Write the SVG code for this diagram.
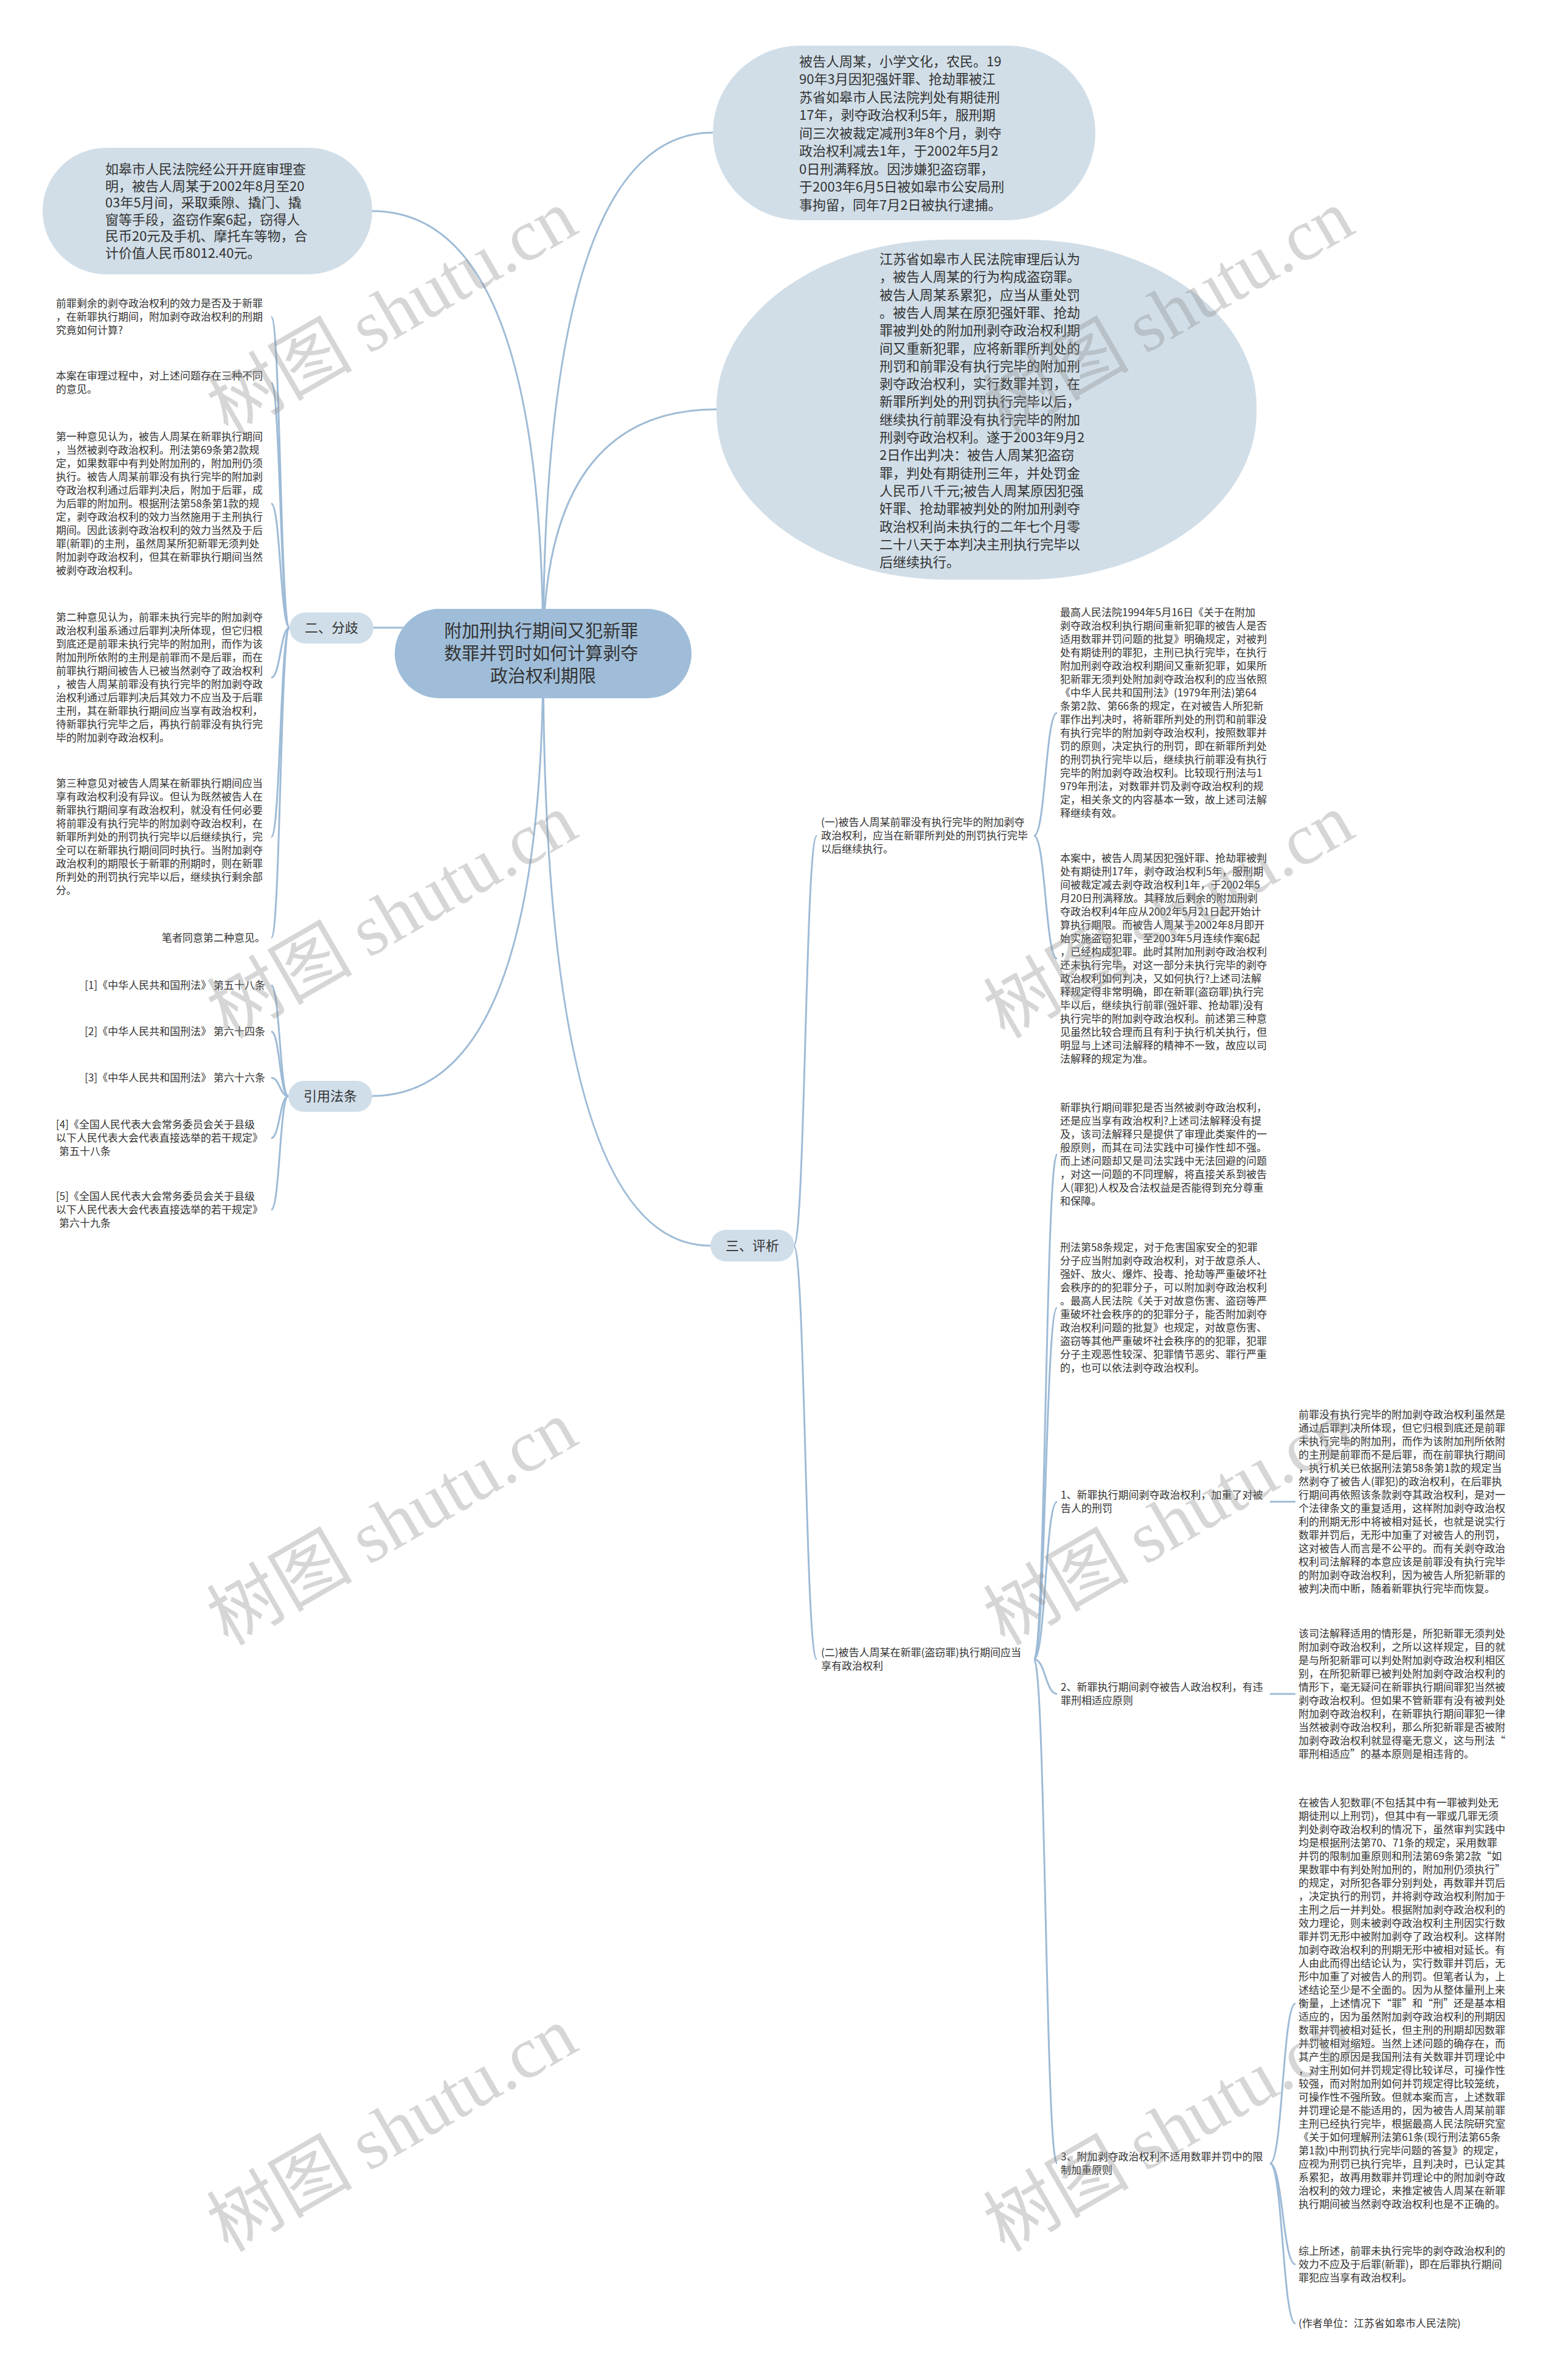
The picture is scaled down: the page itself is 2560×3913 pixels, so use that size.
<svg xmlns="http://www.w3.org/2000/svg" width="2560" height="3913" viewBox="0 0 2560 3913">
<style>
text { font-family: "Noto Sans CJK SC", "Noto Sans", sans-serif; fill: #333333; }
.t17 { font-size: 17px; }
.t22 { font-size: 22px; }
.t29 { font-size: 29px; }
.conn { fill: none; stroke: #9ebbd6; stroke-width: 3; }
.bub { fill: #d1dee8; }
.pill { fill: #d0dee9; }
.root { fill: #9fbdd8; }
.wm { font-size: 120px; fill: #8c8c8c; fill-opacity: 0.36; }
.wmlat { font-family: "Liberation Serif", serif; }
</style>
<rect x="0" y="0" width="2560" height="3913" fill="#ffffff"/>

<g id="connectors">
  <path class="conn" d="M893,1075 Q893,347 612,347"/>
  <path class="conn" d="M893,1075 Q893,218 1172,218"/>
  <path class="conn" d="M893,1075 Q893,673 1178,673"/>
  <path class="conn" d="M893,1032 L612,1032"/>
  <path class="conn" d="M893,1075 Q893,1802 611,1802"/>
  <path class="conn" d="M893,1075 Q893,2048 1168,2048"/>
  <path class="conn" d="M476,1032 C461,1032 461,521 446,521"/>
  <path class="conn" d="M476,1032 C461,1032 461,629 446,629"/>
  <path class="conn" d="M476,1032 C461,1032 461,828 446,828"/>
  <path class="conn" d="M476,1032 C461,1032 461,1114 446,1114"/>
  <path class="conn" d="M476,1032 C461,1032 461,1376 446,1376"/>
  <path class="conn" d="M476,1032 C461,1032 461,1542 446,1542"/>
  <path class="conn" d="M474,1802 C460,1802 460,1620 446,1620"/>
  <path class="conn" d="M474,1802 C460,1802 460,1696 446,1696"/>
  <path class="conn" d="M474,1802 C460,1802 460,1772 446,1772"/>
  <path class="conn" d="M474,1802 C460,1802 460,1871 446,1871"/>
  <path class="conn" d="M474,1802 C460,1802 460,1989 446,1989"/>
  <path class="conn" d="M1305,2048 C1324,2048 1324,1374 1343,1374"/>
  <path class="conn" d="M1305,2048 C1324,2048 1324,2728 1343,2728"/>
  <path class="conn" d="M1700,1374 C1719,1374 1719,1172 1738,1172"/>
  <path class="conn" d="M1700,1374 C1719,1374 1719,1576 1738,1576"/>
  <path class="conn" d="M1700,2728 C1719,2728 1719,1898 1738,1898"/>
  <path class="conn" d="M1700,2728 C1719,2728 1719,2150 1738,2150"/>
  <path class="conn" d="M1700,2728 C1719,2728 1719,2469 1738,2469"/>
  <path class="conn" d="M1700,2728 C1719,2728 1719,2785 1738,2785"/>
  <path class="conn" d="M1700,2728 C1719,2728 1719,3557 1738,3557"/>
  <path class="conn" d="M2088,2469 L2130,2469"/>
  <path class="conn" d="M2088,2785 L2130,2785"/>
  <path class="conn" d="M2088,3557 C2109,3557 2109,3294 2130,3294"/>
  <path class="conn" d="M2088,3557 C2109,3557 2109,3723 2130,3723"/>
  <path class="conn" d="M2088,3557 C2109,3557 2109,3820 2130,3820"/>
</g>

<g id="root">
  <rect class="root" x="649" y="1001" width="488" height="147" rx="73.5"/>
  <text class="t29" text-anchor="middle">
    <tspan x="893" y="1048">附加刑执行期间又犯新罪</tspan>
    <tspan x="893" y="1085">数罪并罚时如何计算剥夺</tspan>
    <tspan x="893" y="1122">政治权利期限</tspan>
  </text>
</g>

<g id="fact-theft">
  <rect class="bub" x="70" y="243" width="542" height="208" rx="104"/>
  <text class="t22">
    <tspan x="173" y="286">如皋市人民法院经公开开庭审理查</tspan>
    <tspan x="173" y="314">明，被告人周某于2002年8月至20</tspan>
    <tspan x="173" y="341">03年5月间，采取乘隙、撬门、撬</tspan>
    <tspan x="173" y="369">窗等手段，盗窃作案6起，窃得人</tspan>
    <tspan x="173" y="396">民币20元及手机、摩托车等物，合</tspan>
    <tspan x="173" y="424">计价值人民币8012.40元。</tspan>
  </text>
</g>

<g id="fact-defendant">
  <rect class="bub" x="1172" y="75" width="629" height="287" rx="143.5"/>
  <text class="t22">
    <tspan x="1314" y="108.5">被告人周某，小学文化，农民。19</tspan>
    <tspan x="1314" y="138">90年3月因犯强奸罪、抢劫罪被江</tspan>
    <tspan x="1314" y="167.5">苏省如皋市人民法院判处有期徒刑</tspan>
    <tspan x="1314" y="197">17年，剥夺政治权利5年，服刑期</tspan>
    <tspan x="1314" y="226.5">间三次被裁定减刑3年8个月，剥夺</tspan>
    <tspan x="1314" y="256">政治权利减去1年，于2002年5月2</tspan>
    <tspan x="1314" y="285.5">0日刑满释放。因涉嫌犯盗窃罪，</tspan>
    <tspan x="1314" y="315">于2003年6月5日被如皋市公安局刑</tspan>
    <tspan x="1314" y="344.5">事拘留，同年7月2日被执行逮捕。</tspan>
  </text>
</g>

<g id="fact-judgment">
  <rect class="bub" x="1178" y="394" width="888" height="559" rx="380" ry="275"/>
  <text class="t22">
    <tspan x="1446" y="434">江苏省如皋市人民法院审理后认为</tspan>
    <tspan x="1446" y="463">，被告人周某的行为构成盗窃罪。</tspan>
    <tspan x="1446" y="493">被告人周某系累犯，应当从重处罚</tspan>
    <tspan x="1446" y="522">。被告人周某在原犯强奸罪、抢劫</tspan>
    <tspan x="1446" y="551">罪被判处的附加刑剥夺政治权利期</tspan>
    <tspan x="1446" y="581">间又重新犯罪，应将新罪所判处的</tspan>
    <tspan x="1446" y="610">刑罚和前罪没有执行完毕的附加刑</tspan>
    <tspan x="1446" y="639">剥夺政治权利，实行数罪并罚，在</tspan>
    <tspan x="1446" y="668">新罪所判处的刑罚执行完毕以后，</tspan>
    <tspan x="1446" y="698">继续执行前罪没有执行完毕的附加</tspan>
    <tspan x="1446" y="727">刑剥夺政治权利。遂于2003年9月2</tspan>
    <tspan x="1446" y="756">2日作出判决：被告人周某犯盗窃</tspan>
    <tspan x="1446" y="786">罪，判处有期徒刑三年，并处罚金</tspan>
    <tspan x="1446" y="815">人民币八千元;被告人周某原因犯强</tspan>
    <tspan x="1446" y="844">奸罪、抢劫罪被判处的附加刑剥夺</tspan>
    <tspan x="1446" y="874">政治权利尚未执行的二年七个月零</tspan>
    <tspan x="1446" y="903">二十八天于本判决主刑执行完毕以</tspan>
    <tspan x="1446" y="932">后继续执行。</tspan>
  </text>
</g>

<g id="branch-dispute">
  <rect class="pill" x="476" y="1007" width="138" height="51" rx="25.5"/>
  <text class="t22" x="545" y="1040" text-anchor="middle">二、分歧</text>
</g>

<g id="dispute-question">
  <text class="t17">
    <tspan x="92" y="505">前罪剩余的剥夺政治权利的效力是否及于新罪</tspan>
    <tspan x="92" y="527">，在新罪执行期间，附加剥夺政治权利的刑期</tspan>
    <tspan x="92" y="549">究竟如何计算?</tspan>
  </text>
</g>
<g id="dispute-intro">
  <text class="t17">
    <tspan x="92" y="624">本案在审理过程中，对上述问题存在三种不同</tspan>
    <tspan x="92" y="646">的意见。</tspan>
  </text>
</g>
<g id="opinion-1">
  <text class="t17">
    <tspan x="92" y="724">第一种意见认为，被告人周某在新罪执行期间</tspan>
    <tspan x="92" y="746">，当然被剥夺政治权利。刑法第69条第2款规</tspan>
    <tspan x="92" y="768">定，如果数罪中有判处附加刑的，附加刑仍须</tspan>
    <tspan x="92" y="790">执行。被告人周某前罪没有执行完毕的附加剥</tspan>
    <tspan x="92" y="812">夺政治权利通过后罪判决后，附加于后罪，成</tspan>
    <tspan x="92" y="834">为后罪的附加刑。根据刑法第58条第1款的规</tspan>
    <tspan x="92" y="856">定，剥夺政治权利的效力当然施用于主刑执行</tspan>
    <tspan x="92" y="878">期间。因此该剥夺政治权利的效力当然及于后</tspan>
    <tspan x="92" y="900">罪(新罪)的主刑，虽然周某所犯新罪无须判处</tspan>
    <tspan x="92" y="922">附加剥夺政治权利，但其在新罪执行期间当然</tspan>
    <tspan x="92" y="944">被剥夺政治权利。</tspan>
  </text>
</g>
<g id="opinion-2">
  <text class="t17">
    <tspan x="92" y="1021">第二种意见认为，前罪未执行完毕的附加剥夺</tspan>
    <tspan x="92" y="1043">政治权利虽系通过后罪判决所体现，但它归根</tspan>
    <tspan x="92" y="1065">到底还是前罪未执行完毕的附加刑，而作为该</tspan>
    <tspan x="92" y="1087">附加刑所依附的主刑是前罪而不是后罪，而在</tspan>
    <tspan x="92" y="1109">前罪执行期间被告人已被当然剥夺了政治权利</tspan>
    <tspan x="92" y="1131">，被告人周某前罪没有执行完毕的附加剥夺政</tspan>
    <tspan x="92" y="1153">治权利通过后罪判决后其效力不应当及于后罪</tspan>
    <tspan x="92" y="1175">主刑，其在新罪执行期间应当享有政治权利，</tspan>
    <tspan x="92" y="1197">待新罪执行完毕之后，再执行前罪没有执行完</tspan>
    <tspan x="92" y="1219">毕的附加剥夺政治权利。</tspan>
  </text>
</g>
<g id="opinion-3">
  <text class="t17">
    <tspan x="92" y="1294">第三种意见对被告人周某在新罪执行期间应当</tspan>
    <tspan x="92" y="1316">享有政治权利没有异议。但认为既然被告人在</tspan>
    <tspan x="92" y="1338">新罪执行期间享有政治权利，就没有任何必要</tspan>
    <tspan x="92" y="1360">将前罪没有执行完毕的附加剥夺政治权利，在</tspan>
    <tspan x="92" y="1382">新罪所判处的刑罚执行完毕以后继续执行，完</tspan>
    <tspan x="92" y="1404">全可以在新罪执行期间同时执行。当附加剥夺</tspan>
    <tspan x="92" y="1426">政治权利的期限长于新罪的刑期时，则在新罪</tspan>
    <tspan x="92" y="1448">所判处的刑罚执行完毕以后，继续执行剩余部</tspan>
    <tspan x="92" y="1470">分。</tspan>
  </text>
</g>
<g id="author-view">
  <text class="t17" x="436" y="1548" text-anchor="end">笔者同意第二种意见。</text>
</g>

<g id="branch-laws">
  <rect class="pill" x="474" y="1777" width="138" height="51" rx="25.5"/>
  <text class="t22" x="543" y="1810" text-anchor="middle">引用法条</text>
</g>
<g id="law-1"><text class="t17" x="436" y="1626" text-anchor="end">[1]《中华人民共和国刑法》 第五十八条</text></g>
<g id="law-2"><text class="t17" x="436" y="1702" text-anchor="end">[2]《中华人民共和国刑法》 第六十四条</text></g>
<g id="law-3"><text class="t17" x="436" y="1778" text-anchor="end">[3]《中华人民共和国刑法》 第六十六条</text></g>
<g id="law-4">
  <text class="t17">
    <tspan x="92" y="1855">[4]《全国人民代表大会常务委员会关于县级</tspan>
    <tspan x="92" y="1877">以下人民代表大会代表直接选举的若干规定》</tspan>
    <tspan x="97" y="1899">第五十八条</tspan>
  </text>
</g>
<g id="law-5">
  <text class="t17">
    <tspan x="92" y="1973">[5]《全国人民代表大会常务委员会关于县级</tspan>
    <tspan x="92" y="1995">以下人民代表大会代表直接选举的若干规定》</tspan>
    <tspan x="97" y="2017">第六十九条</tspan>
  </text>
</g>

<g id="branch-analysis">
  <rect class="pill" x="1168" y="2022" width="138" height="52" rx="26"/>
  <text class="t22" x="1237" y="2056" text-anchor="middle">三、评析</text>
</g>

<g id="analysis-1">
  <text class="t17">
    <tspan x="1350" y="1358">(一)被告人周某前罪没有执行完毕的附加剥夺</tspan>
    <tspan x="1350" y="1380">政治权利，应当在新罪所判处的刑罚执行完毕</tspan>
    <tspan x="1350" y="1402">以后继续执行。</tspan>
  </text>
</g>
<g id="analysis-1a">
  <text class="t17">
    <tspan x="1743" y="1013">最高人民法院1994年5月16日《关于在附加</tspan>
    <tspan x="1743" y="1035">剥夺政治权利执行期间重新犯罪的被告人是否</tspan>
    <tspan x="1743" y="1057">适用数罪并罚问题的批复》明确规定，对被判</tspan>
    <tspan x="1743" y="1079">处有期徒刑的罪犯，主刑已执行完毕，在执行</tspan>
    <tspan x="1743" y="1101">附加刑剥夺政治权利期间又重新犯罪，如果所</tspan>
    <tspan x="1743" y="1123">犯新罪无须判处附加剥夺政治权利的应当依照</tspan>
    <tspan x="1743" y="1145">《中华人民共和国刑法》(1979年刑法)第64</tspan>
    <tspan x="1743" y="1167">条第2款、第66条的规定，在对被告人所犯新</tspan>
    <tspan x="1743" y="1189">罪作出判决时，将新罪所判处的刑罚和前罪没</tspan>
    <tspan x="1743" y="1211">有执行完毕的附加剥夺政治权利，按照数罪并</tspan>
    <tspan x="1743" y="1233">罚的原则，决定执行的刑罚，即在新罪所判处</tspan>
    <tspan x="1743" y="1255">的刑罚执行完毕以后，继续执行前罪没有执行</tspan>
    <tspan x="1743" y="1277">完毕的附加剥夺政治权利。比较现行刑法与1</tspan>
    <tspan x="1743" y="1299">979年刑法，对数罪并罚及剥夺政治权利的规</tspan>
    <tspan x="1743" y="1321">定，相关条文的内容基本一致，故上述司法解</tspan>
    <tspan x="1743" y="1343">释继续有效。</tspan>
  </text>
</g>
<g id="analysis-1b">
  <text class="t17">
    <tspan x="1743" y="1417">本案中，被告人周某因犯强奸罪、抢劫罪被判</tspan>
    <tspan x="1743" y="1439">处有期徒刑17年，剥夺政治权利5年，服刑期</tspan>
    <tspan x="1743" y="1461">间被裁定减去剥夺政治权利1年，于2002年5</tspan>
    <tspan x="1743" y="1483">月20日刑满释放。其释放后剩余的附加刑剥</tspan>
    <tspan x="1743" y="1505">夺政治权利4年应从2002年5月21日起开始计</tspan>
    <tspan x="1743" y="1527">算执行期限。而被告人周某于2002年8月即开</tspan>
    <tspan x="1743" y="1549">始实施盗窃犯罪，至2003年5月连续作案6起</tspan>
    <tspan x="1743" y="1571">，已经构成犯罪。此时其附加刑剥夺政治权利</tspan>
    <tspan x="1743" y="1593">还未执行完毕，对这一部分未执行完毕的剥夺</tspan>
    <tspan x="1743" y="1615">政治权利如何判决，又如何执行?上述司法解</tspan>
    <tspan x="1743" y="1637">释规定得非常明确，即在新罪(盗窃罪)执行完</tspan>
    <tspan x="1743" y="1659">毕以后，继续执行前罪(强奸罪、抢劫罪)没有</tspan>
    <tspan x="1743" y="1681">执行完毕的附加剥夺政治权利。前述第三种意</tspan>
    <tspan x="1743" y="1703">见虽然比较合理而且有利于执行机关执行，但</tspan>
    <tspan x="1743" y="1725">明显与上述司法解释的精神不一致，故应以司</tspan>
    <tspan x="1743" y="1747">法解释的规定为准。</tspan>
  </text>
</g>

<g id="analysis-2">
  <text class="t17">
    <tspan x="1350" y="2723">(二)被告人周某在新罪(盗窃罪)执行期间应当</tspan>
    <tspan x="1350" y="2745">享有政治权利</tspan>
  </text>
</g>
<g id="analysis-2a">
  <text class="t17">
    <tspan x="1743" y="1827">新罪执行期间罪犯是否当然被剥夺政治权利，</tspan>
    <tspan x="1743" y="1849">还是应当享有政治权利?上述司法解释没有提</tspan>
    <tspan x="1743" y="1871">及，该司法解释只是提供了审理此类案件的一</tspan>
    <tspan x="1743" y="1893">般原则，而其在司法实践中可操作性却不强。</tspan>
    <tspan x="1743" y="1915">而上述问题却又是司法实践中无法回避的问题</tspan>
    <tspan x="1743" y="1937">，对这一问题的不同理解，将直接关系到被告</tspan>
    <tspan x="1743" y="1959">人(罪犯)人权及合法权益是否能得到充分尊重</tspan>
    <tspan x="1743" y="1981">和保障。</tspan>
  </text>
</g>
<g id="analysis-2b">
  <text class="t17">
    <tspan x="1743" y="2057">刑法第58条规定，对于危害国家安全的犯罪</tspan>
    <tspan x="1743" y="2079">分子应当附加剥夺政治权利，对于故意杀人、</tspan>
    <tspan x="1743" y="2101">强奸、放火、爆炸、投毒、抢劫等严重破坏社</tspan>
    <tspan x="1743" y="2123">会秩序的的犯罪分子，可以附加剥夺政治权利</tspan>
    <tspan x="1743" y="2145">。最高人民法院《关于对故意伤害、盗窃等严</tspan>
    <tspan x="1743" y="2167">重破坏社会秩序的的犯罪分子，能否附加剥夺</tspan>
    <tspan x="1743" y="2189">政治权利问题的批复》也规定，对故意伤害、</tspan>
    <tspan x="1743" y="2211">盗窃等其他严重破坏社会秩序的的犯罪，犯罪</tspan>
    <tspan x="1743" y="2233">分子主观恶性较深、犯罪情节恶劣、罪行严重</tspan>
    <tspan x="1743" y="2255">的，也可以依法剥夺政治权利。</tspan>
  </text>
</g>

<g id="point-1">
  <text class="t17">
    <tspan x="1744" y="2464">1、新罪执行期间剥夺政治权利，加重了对被</tspan>
    <tspan x="1744" y="2486">告人的刑罚</tspan>
  </text>
</g>
<g id="point-1-text">
  <text class="t17">
    <tspan x="2135" y="2332">前罪没有执行完毕的附加剥夺政治权利虽然是</tspan>
    <tspan x="2135" y="2354">通过后罪判决所体现，但它归根到底还是前罪</tspan>
    <tspan x="2135" y="2376">未执行完毕的附加刑，而作为该附加刑所依附</tspan>
    <tspan x="2135" y="2398">的主刑是前罪而不是后罪，而在前罪执行期间</tspan>
    <tspan x="2135" y="2420">，执行机关已依据刑法第58条第1款的规定当</tspan>
    <tspan x="2135" y="2442">然剥夺了被告人(罪犯)的政治权利，在后罪执</tspan>
    <tspan x="2135" y="2464">行期间再依照该条款剥夺其政治权利，是对一</tspan>
    <tspan x="2135" y="2486">个法律条文的重复适用，这样附加剥夺政治权</tspan>
    <tspan x="2135" y="2508">利的刑期无形中将被相对延长，也就是说实行</tspan>
    <tspan x="2135" y="2530">数罪并罚后，无形中加重了对被告人的刑罚，</tspan>
    <tspan x="2135" y="2552">这对被告人而言是不公平的。而有关剥夺政治</tspan>
    <tspan x="2135" y="2574">权利司法解释的本意应该是前罪没有执行完毕</tspan>
    <tspan x="2135" y="2596">的附加剥夺政治权利，因为被告人所犯新罪的</tspan>
    <tspan x="2135" y="2618">被判决而中断，随着新罪执行完毕而恢复。</tspan>
  </text>
</g>

<g id="point-2">
  <text class="t17">
    <tspan x="1744" y="2780">2、新罪执行期间剥夺被告人政治权利，有违</tspan>
    <tspan x="1744" y="2802">罪刑相适应原则</tspan>
  </text>
</g>
<g id="point-2-text">
  <text class="t17">
    <tspan x="2135" y="2692">该司法解释适用的情形是，所犯新罪无须判处</tspan>
    <tspan x="2135" y="2714">附加剥夺政治权利，之所以这样规定，目的就</tspan>
    <tspan x="2135" y="2736">是与所犯新罪可以判处附加剥夺政治权利相区</tspan>
    <tspan x="2135" y="2758">别，在所犯新罪已被判处附加剥夺政治权利的</tspan>
    <tspan x="2135" y="2780">情形下，毫无疑问在新罪执行期间罪犯当然被</tspan>
    <tspan x="2135" y="2802">剥夺政治权利。但如果不管新罪有没有被判处</tspan>
    <tspan x="2135" y="2824">附加剥夺政治权利，在新罪执行期间罪犯一律</tspan>
    <tspan x="2135" y="2846">当然被剥夺政治权利，那么所犯新罪是否被附</tspan>
    <tspan x="2135" y="2868">加剥夺政治权利就显得毫无意义，这与刑法“</tspan>
    <tspan x="2135" y="2890">罪刑相适应”的基本原则是相违背的。</tspan>
  </text>
</g>

<g id="point-3">
  <text class="t17">
    <tspan x="1744" y="3552">3、附加剥夺政治权利不适用数罪并罚中的限</tspan>
    <tspan x="1744" y="3574">制加重原则</tspan>
  </text>
</g>
<g id="point-3-text">
  <text class="t17">
    <tspan x="2135" y="2970">在被告人犯数罪(不包括其中有一罪被判处无</tspan>
    <tspan x="2135" y="2992">期徒刑以上刑罚)，但其中有一罪或几罪无须</tspan>
    <tspan x="2135" y="3014">判处剥夺政治权利的情况下，虽然审判实践中</tspan>
    <tspan x="2135" y="3036">均是根据刑法第70、71条的规定，采用数罪</tspan>
    <tspan x="2135" y="3058">并罚的限制加重原则和刑法第69条第2款“如</tspan>
    <tspan x="2135" y="3080">果数罪中有判处附加刑的，附加刑仍须执行”</tspan>
    <tspan x="2135" y="3102">的规定，对所犯各罪分别判处，再数罪并罚后</tspan>
    <tspan x="2135" y="3124">，决定执行的刑罚，并将剥夺政治权利附加于</tspan>
    <tspan x="2135" y="3146">主刑之后一并判处。根据附加剥夺政治权利的</tspan>
    <tspan x="2135" y="3168">效力理论，则未被剥夺政治权利主刑因实行数</tspan>
    <tspan x="2135" y="3190">罪并罚无形中被附加剥夺了政治权利。这样附</tspan>
    <tspan x="2135" y="3212">加剥夺政治权利的刑期无形中被相对延长。有</tspan>
    <tspan x="2135" y="3234">人由此而得出结论认为，实行数罪并罚后，无</tspan>
    <tspan x="2135" y="3256">形中加重了对被告人的刑罚。但笔者认为，上</tspan>
    <tspan x="2135" y="3278">述结论至少是不全面的。因为从整体量刑上来</tspan>
    <tspan x="2135" y="3300">衡量，上述情况下“罪”和“刑”还是基本相</tspan>
    <tspan x="2135" y="3322">适应的，因为虽然附加剥夺政治权利的刑期因</tspan>
    <tspan x="2135" y="3344">数罪并罚被相对延长，但主刑的刑期却因数罪</tspan>
    <tspan x="2135" y="3366">并罚被相对缩短。当然上述问题的确存在，而</tspan>
    <tspan x="2135" y="3388">其产生的原因是我国刑法有关数罪并罚理论中</tspan>
    <tspan x="2135" y="3410">，对主刑如何并罚规定得比较详尽，可操作性</tspan>
    <tspan x="2135" y="3432">较强，而对附加刑如何并罚规定得比较笼统，</tspan>
    <tspan x="2135" y="3454">可操作性不强所致。但就本案而言，上述数罪</tspan>
    <tspan x="2135" y="3476">并罚理论是不能适用的，因为被告人周某前罪</tspan>
    <tspan x="2135" y="3498">主刑已经执行完毕，根据最高人民法院研究室</tspan>
    <tspan x="2135" y="3520">《关于如何理解刑法第61条(现行刑法第65条</tspan>
    <tspan x="2135" y="3542">第1款)中刑罚执行完毕问题的答复》的规定，</tspan>
    <tspan x="2135" y="3564">应视为刑罚已执行完毕，且判决时，已认定其</tspan>
    <tspan x="2135" y="3586">系累犯，故再用数罪并罚理论中的附加剥夺政</tspan>
    <tspan x="2135" y="3608">治权利的效力理论，来推定被告人周某在新罪</tspan>
    <tspan x="2135" y="3630">执行期间被当然剥夺政治权利也是不正确的。</tspan>
  </text>
</g>
<g id="conclusion">
  <text class="t17">
    <tspan x="2135" y="3707">综上所述，前罪未执行完毕的剥夺政治权利的</tspan>
    <tspan x="2135" y="3729">效力不应及于后罪(新罪)，即在后罪执行期间</tspan>
    <tspan x="2135" y="3751">罪犯应当享有政治权利。</tspan>
  </text>
</g>
<g id="author-unit">
  <text class="t17" x="2135" y="3826">(作者单位：江苏省如皋市人民法院)</text>
</g>

<g id="watermarks">
  <text class="wm" transform="translate(644,512) rotate(-30)" text-anchor="middle" y="42">树图 <tspan class="wmlat">shutu.cn</tspan></text>
  <text class="wm" transform="translate(1921,512) rotate(-30)" text-anchor="middle" y="42">树图 <tspan class="wmlat">shutu.cn</tspan></text>
  <text class="wm" transform="translate(644,1505) rotate(-30)" text-anchor="middle" y="42">树图 <tspan class="wmlat">shutu.cn</tspan></text>
  <text class="wm" transform="translate(1921,1505) rotate(-30)" text-anchor="middle" y="42">树图 <tspan class="wmlat">shutu.cn</tspan></text>
  <text class="wm" transform="translate(644,2503) rotate(-30)" text-anchor="middle" y="42">树图 <tspan class="wmlat">shutu.cn</tspan></text>
  <text class="wm" transform="translate(1921,2503) rotate(-30)" text-anchor="middle" y="42">树图 <tspan class="wmlat">shutu.cn</tspan></text>
  <text class="wm" transform="translate(644,3500) rotate(-30)" text-anchor="middle" y="42">树图 <tspan class="wmlat">shutu.cn</tspan></text>
  <text class="wm" transform="translate(1921,3500) rotate(-30)" text-anchor="middle" y="42">树图 <tspan class="wmlat">shutu.cn</tspan></text>
</g>
</svg>
